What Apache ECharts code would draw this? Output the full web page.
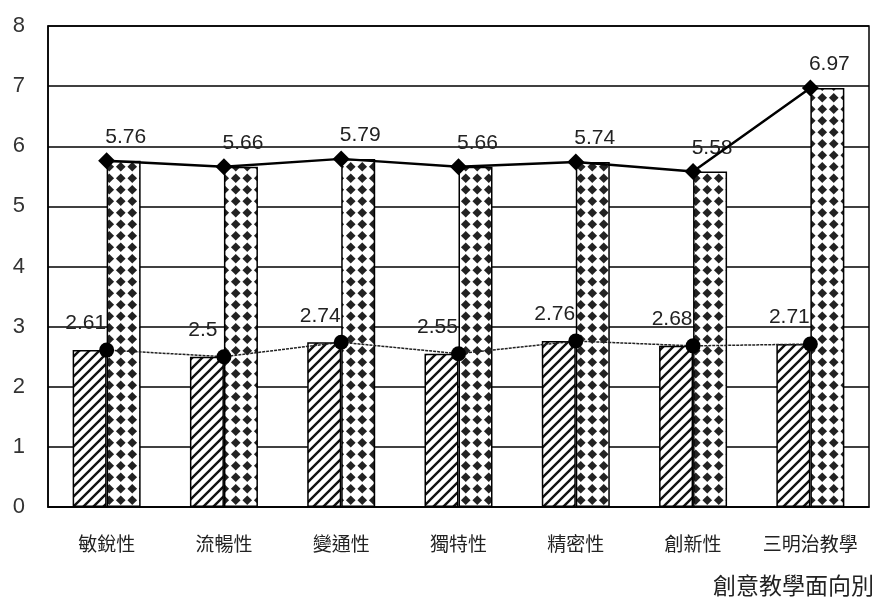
<!DOCTYPE html>
<html>
<head>
<meta charset="utf-8">
<script src="https://cdn.jsdelivr.net/npm/echarts@6/dist/echarts.min.js"></script>
<style>
  html, body { margin: 0; padding: 0; background: #fff; }
  #main { width: 876px; height: 601px; }
</style>
</head>
<body>
<div id="main"></div>
<script>
// 資料
var categories = ['敏銳性', '流暢性', '變通性', '獨特性', '精密性', '創新性', '三明治教學'];
var lowValues = [2.61, 2.5, 2.74, 2.55, 2.76, 2.68, 2.71];
var highValues = [5.76, 5.66, 5.79, 5.66, 5.74, 5.58, 6.97];
var yTicks = [0, 1, 2, 3, 4, 5, 6, 7, 8];

// 斜線圖樣
function hatchPattern() {
    var s = 10;
    var c = document.createElement('canvas');
    c.width = s; c.height = s;
    var ctx = c.getContext('2d');
    ctx.fillStyle = '#fff';
    ctx.fillRect(0, 0, s, s);
    ctx.strokeStyle = '#111';
    ctx.lineWidth = 2.4;
    ctx.beginPath();
    ctx.moveTo(-3, 3); ctx.lineTo(3, -3);
    ctx.moveTo(-1, s + 1); ctx.lineTo(s + 1, -1);
    ctx.moveTo(s - 3, s + 3); ctx.lineTo(s + 3, s - 3);
    ctx.stroke();
    return c;
}

// 菱形點圖樣
function diamondPattern() {
    var w = 11.5, h = 11.5, r = 4.8;
    var c = document.createElement('canvas');
    c.width = 23; c.height = 23;
    var ctx = c.getContext('2d');
    ctx.fillStyle = '#fff';
    ctx.fillRect(0, 0, 23, 23);
    ctx.fillStyle = '#222';
    for (var i = 0; i < 2; i++) {
        for (var j = 0; j < 2; j++) {
            var x = w / 2 + i * w, y = h / 2 + j * h;
            ctx.beginPath();
            ctx.moveTo(x, y - r);
            ctx.lineTo(x + r, y);
            ctx.lineTo(x, y + r);
            ctx.lineTo(x - r, y);
            ctx.closePath();
            ctx.fill();
        }
    }
    return c;
}

var numFont = 'Liberation Sans';
var labelFont = { fontFamily: numFont, fontSize: 21, color: '#222' };

var myChart = echarts.init(document.getElementById('main'));
myChart.setOption({
    animation: false,
    grid: {
        left: 48, right: 7, top: 26, bottom: 94,
        show: true, borderColor: '#000', borderWidth: 1.5
    },
    xAxis: {
        type: 'category',
        data: categories,
        axisLine: { lineStyle: { color: '#000', width: 1.5 } },
        axisTick: { inside: true, length: 5, lineStyle: { color: '#000' } },
        axisLabel: {
            interval: 0,
            margin: 27, fontSize: 19, color: '#222',
            fontFamily: 'Noto Sans CJK TC'
        }
    },
    yAxis: {
        type: 'value',
        min: yTicks[0],
        max: yTicks[yTicks.length - 1],
        interval: 1,
        axisLine: { show: true, lineStyle: { color: '#000', width: 1.5 } },
        axisTick: { show: false },
        splitLine: { lineStyle: { color: '#000', width: 1.5 } },
        axisLabel: {
            margin: 23, fontSize: 22, color: '#333',
            fontFamily: numFont
        }
    },
    graphic: [{
        type: 'text',
        left: 713, top: 574,
        style: {
            text: '創意教學面向別',
            fontSize: 23,
            fontFamily: 'Noto Sans CJK TC',
            fill: '#222'
        }
    }],
    series: [
        {
            type: 'bar',
            data: lowValues,
            barWidth: 34,
            barGap: '0%',
            itemStyle: {
                color: { image: hatchPattern(), repeat: 'repeat' },
                borderColor: '#000', borderWidth: 1.5
            },
            label: Object.assign({
                show: true, position: 'top', distance: 16, offset: [-4, 0]
            }, labelFont),
            z: 2
        },
        {
            type: 'bar',
            data: highValues,
            barWidth: 34,
            barGap: '0%',
            itemStyle: {
                color: { image: diamondPattern(), repeat: 'repeat' },
                borderColor: '#000', borderWidth: 1.5
            },
            label: Object.assign({
                show: true, position: 'top', distance: 13, offset: [2, 0]
            }, labelFont),
            z: 2
        },
        {
            type: 'line',
            data: lowValues,
            symbol: 'circle',
            symbolSize: 15,
            itemStyle: { color: '#000' },
            lineStyle: { color: '#222', width: 1.5, type: [3, 1] },
            z: 5
        },
        {
            type: 'line',
            data: highValues,
            symbol: 'diamond',
            symbolSize: 17,
            itemStyle: { color: '#000' },
            lineStyle: { color: '#000', width: 2.5 },
            z: 5
        }
    ]
});
</script>
</body>
</html>
